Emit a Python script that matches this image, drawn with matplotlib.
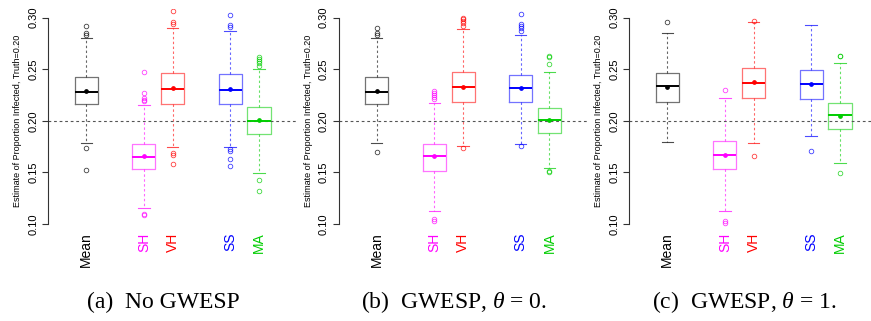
import matplotlib
matplotlib.use("Agg")
import matplotlib.pyplot as plt

plt.rcParams['font.family'] = ['Liberation Sans', 'DejaVu Sans']
plt.rcParams['mathtext.fontset'] = 'custom'
plt.rcParams['mathtext.rm'] = 'Liberation Serif'
plt.rcParams['mathtext.it'] = 'Liberation Serif:italic'

labels = ["Mean", "SH", "VH", "SS", "MA"]
colors = ["#000000", "#FF00FF", "#FF0000", "#0000FF", "#00CD00"]
captions = ["(a)  No GWESP", "(b)  GWESP, $\\theta$ = 0.", "(c)  GWESP, $\\theta$ = 1."]
truth = 0.20
yticks = [0.10, 0.15, 0.20, 0.25, 0.30]

# Panel (a) No GWESP
a_whislo = [0.1782, 0.1155, 0.1743, 0.1743, 0.1498]
a_q1 = [0.2160, 0.1530, 0.2160, 0.2166, 0.1876]
a_med = [0.2280, 0.1650, 0.2305, 0.2299, 0.1998]
a_q3 = [0.2422, 0.1779, 0.2464, 0.2457, 0.2131]
a_whishi = [0.2800, 0.2150, 0.2903, 0.2874, 0.2506]
a_mean = [0.2292, 0.1656, 0.2318, 0.2312, 0.2005]
a_fliers = [
    [0.2922, 0.2848, 0.2835, 0.1740, 0.1520],
    [0.2477, 0.2273, 0.2222, 0.2205, 0.2190, 0.1100, 0.1090],
    [0.3068, 0.2961, 0.2942, 0.1686, 0.1670, 0.1585],
    [0.3029, 0.2926, 0.2906, 0.1724, 0.1708, 0.1634, 0.1566],
    [0.2622, 0.2600, 0.2580, 0.2557, 0.2531, 0.1424, 0.1323],
]

# Panel (b) GWESP, theta = 0
b_whislo = [0.1782, 0.1123, 0.1759, 0.1779, 0.1546]
b_q1 = [0.2160, 0.1514, 0.2183, 0.2179, 0.1882]
b_med = [0.2280, 0.1659, 0.2331, 0.2315, 0.2005]
b_q3 = [0.2422, 0.1775, 0.2477, 0.2448, 0.2121]
b_whishi = [0.2800, 0.2170, 0.2887, 0.2835, 0.2477]
b_mean = [0.2286, 0.1656, 0.2331, 0.2318, 0.2008]
b_fliers = [
    [0.2897, 0.2848, 0.2832, 0.1700],
    [0.2292, 0.2273, 0.2250, 0.2231, 0.2212, 0.1049, 0.1029],
    [0.3000, 0.2984, 0.2968, 0.2945, 0.2922, 0.1733],
    [0.3032, 0.2939, 0.2916, 0.2897, 0.2874, 0.1759],
    [0.2632, 0.2619, 0.2548, 0.1514, 0.1500],
]

# Panel (c) GWESP, theta = 1
c_whislo = [0.1798, 0.1126, 0.1788, 0.1853, 0.1595]
c_q1 = [0.2179, 0.1530, 0.2218, 0.2215, 0.1918]
c_med = [0.2338, 0.1672, 0.2370, 0.2357, 0.2053]
c_q3 = [0.2460, 0.1808, 0.2512, 0.2493, 0.2176]
c_whishi = [0.2855, 0.2218, 0.2958, 0.2926, 0.2557]
c_mean = [0.2325, 0.1669, 0.2376, 0.2357, 0.2047]
c_fliers = [
    [0.2958],
    [0.2296, 0.1026, 0.1006],
    [0.2968, 0.1662],
    [0.1704],
    [0.2628, 0.2628, 0.1494],
]

panels = [
    (a_whislo, a_q1, a_med, a_q3, a_whishi, a_mean, a_fliers),
    (b_whislo, b_q1, b_med, b_q3, b_whishi, b_mean, b_fliers),
    (c_whislo, c_q1, c_med, c_q3, c_whishi, c_mean, c_fliers),
]

W, H = 871, 321
fig = plt.figure(figsize=(W / 100, H / 100), dpi=100)

positions = [1, 3, 4, 6, 7]
ax_lefts_px = [48.3, 338.7, 629.3]
ax_w_px = 248.7
ax_top_px, ax_bot_px = 9.45, 232.3
cap_x_px = [163, 454, 744]

for p, (wlo, q1, med, q3, whi, mean, fl) in enumerate(panels):
    ax = fig.add_axes([ax_lefts_px[p] / W, 1 - ax_bot_px / H, ax_w_px / W,
                       (ax_bot_px - ax_top_px) / H])
    stats = []
    for i in range(len(labels)):
        stats.append(dict(whislo=wlo[i], q1=q1[i], med=med[i], q3=q3[i],
                          whishi=whi[i], mean=mean[i], fliers=fl[i], label=labels[i]))
    art = ax.bxp(stats, positions=positions, widths=0.8, showmeans=True,
                 showfliers=True, manage_ticks=False)
    for i, c in enumerate(colors):
        art['boxes'][i].set(color=c, alpha=0.55, linewidth=0.9)
        art['medians'][i].set(color=c, linewidth=1.4)
        for k in (2 * i, 2 * i + 1):
            art['whiskers'][k].set(color=c, alpha=0.6, linewidth=0.8,
                                   linestyle=(0, (2.2, 2.2)))
            art['caps'][k].set(color=c, alpha=0.7, linewidth=0.8)
        art['fliers'][i].set(marker='o', markerfacecolor='none',
                             markeredgecolor=c, markersize=3.3,
                             markeredgewidth=0.6, alpha=0.75)
        art['means'][i].set(marker='o', markerfacecolor=c, markeredgecolor=c,
                            markersize=2.4)
    ax.axhline(truth, color='#555555', linewidth=0.8, linestyle=(0, (2.5, 2.5)))
    ax.set_xlim(-0.32, 8.32)
    ax.set_ylim(0.092, 0.308)
    for s in ('top', 'right', 'bottom'):
        ax.spines[s].set_visible(False)
    ax.spines['left'].set_bounds(0.10, 0.30)
    ax.spines['left'].set_linewidth(0.8)
    ax.spines['left'].set_color('#333333')
    ax.patch.set_visible(False)
    ax.set_yticks(yticks)
    ax.set_yticklabels(["%.2f" % v for v in yticks], rotation=90, va='center')
    ax.tick_params(axis='y', length=4.5, width=0.8, pad=2.5, labelsize=8,
                   color='#333333')
    ax.set_xticks(positions)
    ax.set_xticklabels(labels, rotation=90, va='top', ha='center', fontsize=10)
    ax.tick_params(axis='x', length=0, pad=0)
    for t, c in zip(ax.get_xticklabels(), colors):
        t.set_color(c)
    ax.text(-0.122, 0.5, "Estimate of Proportion Infected, Truth=0.20",
            rotation=90, ha='center', va='center', fontsize=6.5,
            transform=ax.transAxes)
    fig.text(cap_x_px[p] / W, 1 - 302 / H, captions[p], ha='center', va='center',
             fontsize=17, family='Liberation Serif')

fig.savefig("out.png", dpi=100)
